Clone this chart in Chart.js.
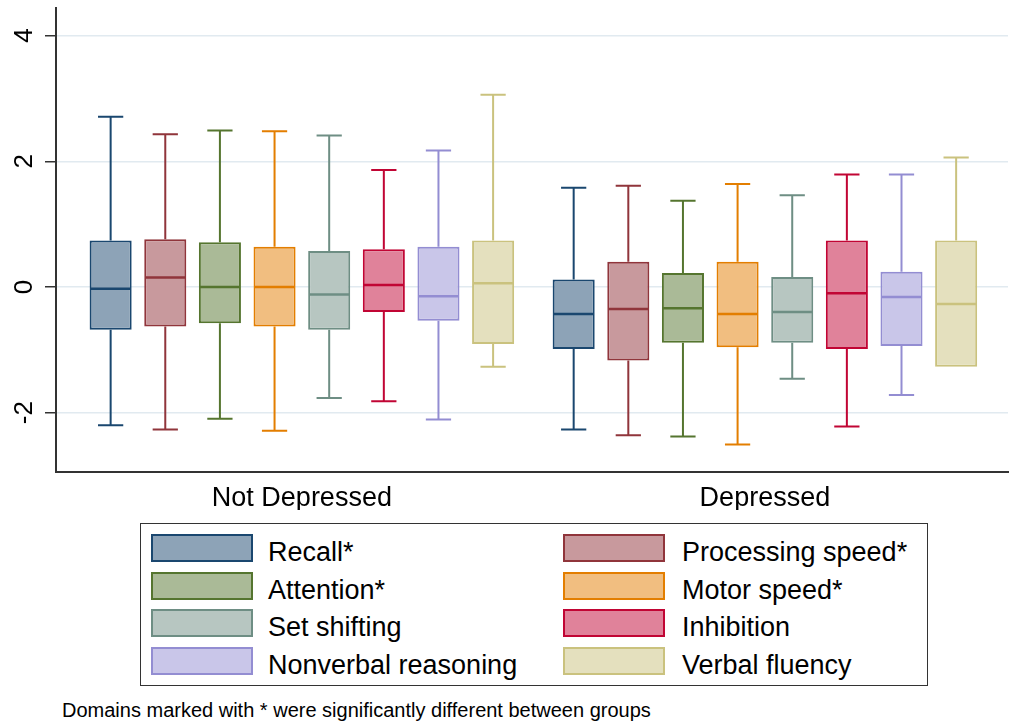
<!DOCTYPE html>
<html>
<head>
<meta charset="utf-8">
<script src="https://cdn.jsdelivr.net/npm/chart.js@4"></script>
<style>
  body { margin: 0; background: #fff; }
  #wrap { position: relative; width: 1009px; height: 724px; background: #fff; font-family: "Liberation Sans", Arial, sans-serif; }
  #box { position: absolute; left: 0; top: 0; }
  #legend { position: absolute; left: 140px; top: 523px; width: 788px; height: 163px; border: 1.5px solid #333; box-sizing: border-box; }
  .sw { position: absolute; width: 102px; height: 28px; border: 2px solid; box-sizing: border-box; }
  .lb { position: absolute; font-size: 27px; line-height: 28px; color: #000; white-space: nowrap; }
  #note { position: absolute; left: 62px; top: 700px; font-size: 20px; line-height: 20px; color: #000; white-space: nowrap; }
</style>
</head>
<body>
<div id="wrap">
  <canvas id="box" width="1009" height="510"></canvas>
  <div id="legend"></div>
  <div id="note">Domains marked with * were significantly different between groups</div>
</div>
<script>
// grupe i domeni
const groups = ['Not Depressed', 'Depressed'];
const domains = ['Recall*', 'Processing speed*', 'Attention*', 'Motor speed*',
                 'Set shifting', 'Inhibition', 'Nonverbal reasoning', 'Verbal fluency'];
const yTicks = [-2, 0, 2, 4];

// vrednosti po domenu: [Not Depressed, Depressed]
const lowerWhisker = [[-2.20, -2.27], [-2.27, -2.36], [-2.10, -2.38], [-2.29, -2.51],
                      [-1.77, -1.46], [-1.82, -2.22], [-2.11, -1.72], [-1.27, -1.27]];
const q1 = [[-0.68, -0.99], [-0.63, -1.17], [-0.58, -0.89], [-0.63, -0.96],
            [-0.68, -0.89], [-0.40, -0.99], [-0.54, -0.94], [-0.91, -1.27]];
const median = [[-0.03, -0.43], [0.15, -0.35], [0.00, -0.34], [0.00, -0.43],
                [-0.12, -0.40], [0.03, -0.10], [-0.15, -0.16], [0.06, -0.27]];
const q3 = [[0.74, 0.12], [0.76, 0.40], [0.71, 0.22], [0.64, 0.40],
            [0.57, 0.16], [0.60, 0.74], [0.64, 0.24], [0.74, 0.74]];
const upperWhisker = [[2.71, 1.58], [2.43, 1.61], [2.49, 1.37], [2.48, 1.64],
                      [2.41, 1.46], [1.86, 1.79], [2.17, 1.79], [3.06, 2.06]];

// boje (Stata s2color)
const lineColors = ['#1A476F', '#90353B', '#55752F', '#E37E00', '#6E8E84', '#C10534', '#938DD2', '#CAC27E'];
const fillColors = ['#8DA3B7', '#C8999D', '#AABA97', '#F1BE80', '#B7C6C1', '#E0829A', '#C9C6E9', '#E4E0BE'];

const FONT = '"Liberation Sans", Arial, sans-serif';

// brkovi i medijana preko skale
const boxPlugin = {
    id: 'boxExtras',
    afterDatasetsDraw(chart) {
        const ctx = chart.ctx;
        const y = chart.scales.y;
        chart.data.datasets.forEach((ds, d) => {
            const meta = chart.getDatasetMeta(d);
            meta.data.forEach((bar, g) => {
                const x = bar.x;
                const half = bar.width / 2;
                const cap = bar.width * 0.3;
                ctx.save();
                ctx.strokeStyle = lineColors[d];
                ctx.lineWidth = 2;
                ctx.beginPath();
                if (upperWhisker[d][g] > q3[d][g]) {
                    ctx.moveTo(x, y.getPixelForValue(q3[d][g]));
                    ctx.lineTo(x, y.getPixelForValue(upperWhisker[d][g]));
                    ctx.moveTo(x - cap, y.getPixelForValue(upperWhisker[d][g]));
                    ctx.lineTo(x + cap, y.getPixelForValue(upperWhisker[d][g]));
                }
                if (lowerWhisker[d][g] < q1[d][g]) {
                    ctx.moveTo(x, y.getPixelForValue(q1[d][g]));
                    ctx.lineTo(x, y.getPixelForValue(lowerWhisker[d][g]));
                    ctx.moveTo(x - cap, y.getPixelForValue(lowerWhisker[d][g]));
                    ctx.lineTo(x + cap, y.getPixelForValue(lowerWhisker[d][g]));
                }
                ctx.stroke();
                ctx.lineWidth = 2.5;
                ctx.beginPath();
                ctx.moveTo(x - half + 1, y.getPixelForValue(median[d][g]));
                ctx.lineTo(x + half - 1, y.getPixelForValue(median[d][g]));
                ctx.stroke();
                ctx.restore();
            });
        });
    },
    afterDraw(chart) {
        // rotirane oznake y ose
        const ctx = chart.ctx;
        const y = chart.scales.y;
        ctx.save();
        ctx.fillStyle = '#000';
        ctx.font = '26px ' + FONT;
        ctx.textAlign = 'center';
        ctx.textBaseline = 'middle';
        yTicks.forEach(v => {
            ctx.save();
            ctx.translate(25, y.getPixelForValue(v));
            ctx.rotate(-Math.PI / 2);
            ctx.fillText(String(v), 0, 0);
            ctx.restore();
        });
        ctx.restore();
    }
};

const datasets = domains.map((name, d) => ({
    label: name,
    data: groups.map((g, i) => ({ x: i, y: [q1[d][i], q3[d][i]] })),
    backgroundColor: fillColors[d],
    borderColor: lineColors[d],
    borderWidth: 2,
    borderSkipped: false,
    categoryPercentage: 0.944,
    barPercentage: 0.77
}));

new Chart(document.getElementById('box').getContext('2d'), {
    type: 'bar',
    data: { datasets: datasets },
    options: {
        responsive: false,
        animation: false,
        devicePixelRatio: 1,
        layout: { padding: { top: 8, right: 1, left: 0, bottom: 0 } },
        plugins: { legend: { display: false }, tooltip: { enabled: false } },
        scales: {
            x: {
                type: 'linear',
                offset: false,
                min: -0.531,
                max: 1.525,
                afterBuildTicks: s => { s.ticks = groups.map((g, i) => ({ value: i })); },
                afterFit: s => { s.height = 38; },
                grid: { display: false, drawTicks: false, offset: false },
                border: { display: true, color: '#333', width: 2 },
                ticks: {
                    autoSkip: false,
                    maxRotation: 0,
                    padding: 10,
                    color: '#000',
                    font: { family: FONT, size: 27 },
                    callback: v => groups[v]
                }
            },
            y: {
                min: -2.946,
                max: 4.44,
                afterBuildTicks: s => { s.ticks = yTicks.map(v => ({ value: v })); },
                afterFit: s => { s.width = 56; },
                grid: { color: '#E1EAF0', lineWidth: 1.5, tickLength: 11, tickColor: '#333', tickWidth: 1.5 },
                border: { display: true, color: '#333', width: 2 },
                ticks: { display: false }
            }
        }
    },
    plugins: [boxPlugin]
});

// legenda u dve kolone
const legend = document.getElementById('legend');
domains.forEach((name, i) => {
    const row = Math.floor(i / 2);
    const col = i % 2;
    const sw = document.createElement('div');
    sw.className = 'sw';
    sw.style.left = (col ? 422 : 10) + 'px';
    sw.style.top = (10 + row * 37.7) + 'px';
    sw.style.background = fillColors[i];
    sw.style.borderColor = lineColors[i];
    legend.appendChild(sw);
    const lb = document.createElement('div');
    lb.className = 'lb';
    lb.style.left = (col ? 541 : 127) + 'px';
    lb.style.top = (14 + row * 37.7) + 'px';
    lb.textContent = name;
    legend.appendChild(lb);
});
</script>
</body>
</html>
